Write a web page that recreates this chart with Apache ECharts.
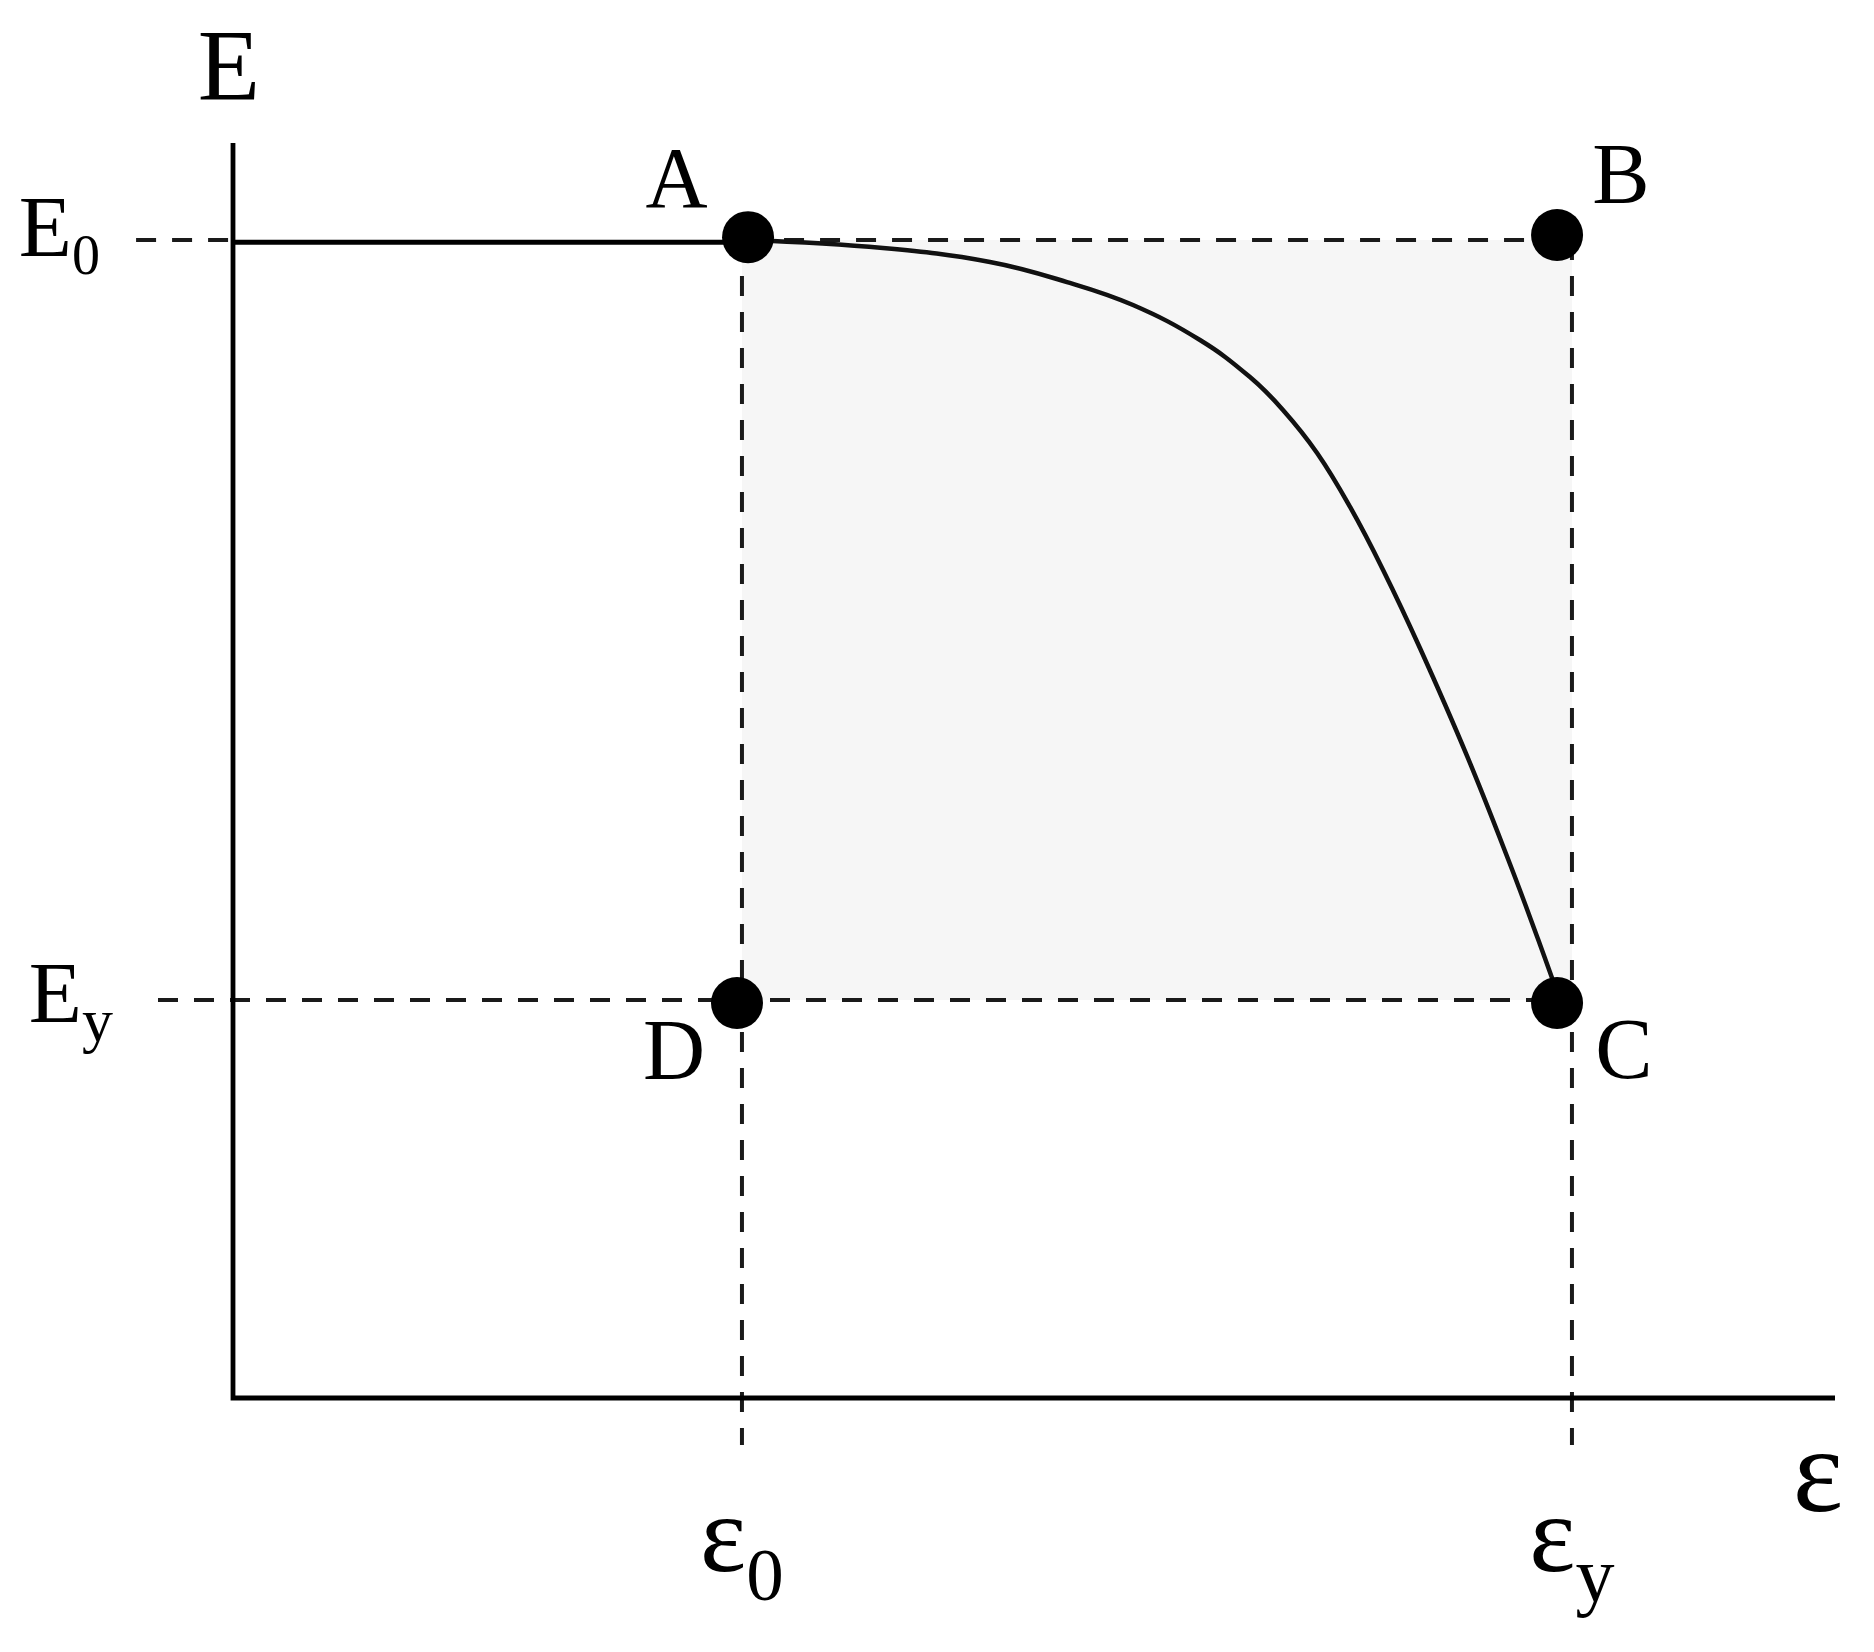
<!DOCTYPE html>
<html>
<head>
<meta charset="utf-8">
<script src="https://cdn.jsdelivr.net/npm/echarts@6/dist/echarts.min.js"></script>
<style>
  html, body { margin: 0; padding: 0; background: #fff; }
  #chart { width: 1874px; height: 1652px; }
</style>
</head>
<body>
<div id="chart"></div>
<script>
// ---------- data ----------
const axisNameX = 'ε';
const axisNameY = 'E';

const strainTicks = [31.77, 83.58];          // ε0, εy
const strainTickMain = ['ε', 'ε'];
const strainTickSub = ['0', 'y'];

const modulusTicks = [92.27, 31.71];         // E0, Ey
const modulusTickMain = ['E', 'E'];
const modulusTickSub = ['0', 'y'];

const pointNames = ['A', 'B', 'C', 'D'];
const pointX = [32.15, 82.65, 82.65, 31.46];
const pointY = [92.50, 92.67, 31.47, 31.47];

const plateauX = [0, 32.15];
const plateauY = [92.10, 92.10];

const curveX = [32.15, 40.57, 47.25, 52.06, 56.18, 60.36, 63.48, 65.54, 67.67, 69.73, 71.79, 74.09, 77.03, 79.71, 81.46, 82.65];
const curveY = [92.27, 91.63, 90.52, 88.92, 87.09, 84.30, 81.35, 78.73, 75.30, 71.00, 65.98, 59.76, 51.16, 42.55, 36.57, 32.35];

// axis frame (origin corner) and guide line extents
const frameX = [0, 0, 100];
const frameY = [100, 0, 0];
const e0GuideLeftX = [-6.05, 0];
const e0GuideRightX = [32.15, 82.65];
const eyGuideX = [-4.68, 82.65];
const strainGuideY = [92.27, -3.75];

// ---------- chart ----------
const FONT = "'Liberation Serif', 'Times New Roman', serif";
const zip = (xs, ys) => xs.map((x, i) => [x, ys[i]]);
const nearest = (arr, v) => {
  let best = 0;
  arr.forEach((a, i) => { if (Math.abs(a - v) < Math.abs(arr[best] - v)) best = i; });
  return best;
};

const dashStyle = { color: '#1a1a1a', width: 4, type: [20, 16] };
const labelOffsets = { A: [-71.5, -53], B: [64, -54.5], C: [67, 52.5], D: [-63, 53.5] };

const chart = echarts.init(document.getElementById('chart'));
chart.setOption({
  animation: false,
  backgroundColor: '#ffffff',
  grid: { left: 72.8, right: 39, top: 143, bottom: 191.25, containLabel: false, outerBoundsMode: 'none' },
  xAxis: {
    type: 'value', min: -10, max: 100,
    name: axisNameX, nameLocation: 'end', nameGap: -17, nameMoveOverlap: false,
    nameTextStyle: { fontFamily: FONT, fontSize: 120, lineHeight: 120, color: '#000',
      align: 'center', verticalAlign: 'top', padding: [21, 0, 0, 0] },
    axisLine: { show: false, onZero: true },
    axisTick: { show: false },
    splitLine: { show: false },
    axisLabel: {
      customValues: strainTicks,
      margin: 26.75,
      fontFamily: FONT, color: '#000',
      formatter: function (v) {
        const i = nearest(strainTicks, v);
        return '{m|' + strainTickMain[i] + '}{s' + i + '|' + strainTickSub[i] + '}';
      },
      rich: {
        m: { fontFamily: FONT, fontSize: 110, lineHeight: 110, color: '#000' },
        s0: { fontFamily: FONT, fontSize: 75, lineHeight: 75, color: '#000', padding: [75, 0, 0, 0] },
        s1: { fontFamily: FONT, fontSize: 78, lineHeight: 78, color: '#000', padding: [78, 0, 2, 0] }
      }
    }
  },
  yAxis: {
    type: 'value', min: -5, max: 100,
    name: axisNameY, nameLocation: 'end', nameGap: 19, nameMoveOverlap: false,
    nameTextStyle: { fontFamily: FONT, fontSize: 102, lineHeight: 102, color: '#000',
      align: 'center', verticalAlign: 'bottom', padding: [0, 8, 0, 0] },
    axisLine: { show: false, onZero: true },
    axisTick: { show: false },
    splitLine: { show: false },
    axisLabel: {
      customValues: modulusTicks,
      margin: -40.2,
      align: 'right',
      fontFamily: FONT, color: '#000',
      formatter: function (v) {
        const i = nearest(modulusTicks, v);
        return '{m' + i + '|' + modulusTickMain[i] + '}{s' + i + '|' + modulusTickSub[i] + '}';
      },
      rich: {
        m0: { fontFamily: FONT, fontSize: 87, lineHeight: 87, color: '#000', padding: [0, 0, 14, 0] },
        s0: { fontFamily: FONT, fontSize: 56, lineHeight: 56, color: '#000', padding: [38, 13, 0, 0] },
        m1: { fontFamily: FONT, fontSize: 87, lineHeight: 87, color: '#000', padding: [0, 0, 1, 0] },
        s1: { fontFamily: FONT, fontSize: 62, lineHeight: 62, color: '#000', padding: [50, 0, 0, 0] }
      }
    }
  },
  series: [
    {
      name: 'E0 guide', type: 'line', z: 2, symbol: 'none', silent: true, connectNulls: false,
      data: zip(e0GuideLeftX, [modulusTicks[0], modulusTicks[0]])
        .concat([['-', '-']])
        .concat(zip(e0GuideRightX, [modulusTicks[0], modulusTicks[0]])),
      lineStyle: dashStyle,
      markArea: {
        silent: true,
        itemStyle: { color: '#f6f6f6' },
        data: [[{ coord: [strainTicks[0], modulusTicks[0]] }, { coord: [strainTicks[1], modulusTicks[1]] }]]
      }
    },
    {
      name: 'Ey guide', type: 'line', z: 2, symbol: 'none', silent: true,
      data: zip(eyGuideX, [modulusTicks[1], modulusTicks[1]]),
      lineStyle: dashStyle
    },
    {
      name: 'eps0 guide', type: 'line', z: 2, symbol: 'none', silent: true,
      data: zip([strainTicks[0], strainTicks[0]], strainGuideY),
      lineStyle: dashStyle
    },
    {
      name: 'epsy guide', type: 'line', z: 2, symbol: 'none', silent: true,
      data: zip([strainTicks[1], strainTicks[1]], strainGuideY),
      lineStyle: dashStyle
    },
    {
      name: 'axes', type: 'line', z: 3, symbol: 'none', silent: true,
      data: zip(frameX, frameY),
      lineStyle: { color: '#000', width: 4.8, join: 'miter', cap: 'butt' }
    },
    {
      name: 'plateau', type: 'line', z: 3, symbol: 'none', silent: true,
      data: zip(plateauX, plateauY),
      lineStyle: { color: '#000', width: 5 }
    },
    {
      name: 'curve', type: 'line', z: 4, symbol: 'none', silent: true,
      smooth: 0.4,
      data: zip(curveX, curveY),
      lineStyle: { color: '#111', width: 4.5 }
    },
    {
      name: 'points', type: 'scatter', z: 5, silent: true,
      symbol: 'circle', symbolSize: 52,
      itemStyle: { color: '#000', opacity: 1 },
      data: pointNames.map((n, i) => ({
        name: n, value: [pointX[i], pointY[i]],
        label: { offset: labelOffsets[n] }
      })),
      label: {
        show: true, position: 'inside',
        formatter: '{b}',
        fontFamily: FONT, fontSize: 86, color: '#000', opacity: 1
      }
    }
  ]
});
</script>
</body>
</html>
